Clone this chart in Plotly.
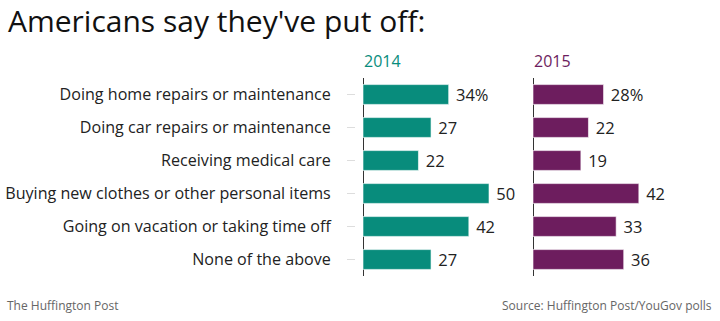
import plotly.graph_objects as go

categories = [
    "Doing home repairs or maintenance",
    "Doing car repairs or maintenance",
    "Receiving medical care",
    "Buying new clothes or other personal items",
    "Going on vacation or taking time off",
    "None of the above",
]
values_2014 = [34, 27, 22, 50, 42, 27]
values_2015 = [28, 22, 19, 42, 33, 36]
labels_2014 = ["34%", "27", "22", "50", "42", "27"]
labels_2015 = ["28%", "22", "19", "42", "33", "36"]

W, H = 720, 321
TEAL = "#088c7c"
PURPLE = "#6d1d5e"
FONT = "Open Sans"

def px(x):
    return x / W

def py(y):
    return 1 - y / H

fig = go.Figure()
for vals, labs, col, xa, ya in [
    (values_2014, labels_2014, TEAL, "x", "y"),
    (values_2015, labels_2015, PURPLE, "x2", "y2"),
]:
    fig.add_trace(go.Bar(
        y=categories, x=vals, orientation="h", xaxis=xa, yaxis=ya,
        marker=dict(color=col, line=dict(color="rgba(255,255,255,0.6)", width=1)),
        width=0.6, text=[" " + t for t in labs], textposition="outside",
        constraintext="none",
        textfont=dict(family=FONT, size=16.5, color="#222"), cliponaxis=False,
        hoverinfo="skip",
    ))

scale = 2.52  # px per unit
d1 = [363, 530]
d2 = [533, 720]
ydom = [py(276), py(78)]

fig.update_layout(
    width=W, height=H,
    margin=dict(l=0, r=0, t=0, b=0),
    paper_bgcolor="white", plot_bgcolor="rgba(0,0,0,0)",
    showlegend=False,
    font=dict(family=FONT, color="#222"),
    xaxis=dict(domain=[px(d1[0]), px(d1[1])], range=[0, (d1[1] - d1[0]) / scale],
               showgrid=False, showticklabels=False, zeroline=True,
               zerolinecolor="#333", zerolinewidth=1, fixedrange=True),
    xaxis2=dict(domain=[px(d2[0]), px(d2[1])], range=[0, (d2[1] - d2[0]) / scale],
                showgrid=False, showticklabels=False, zeroline=True,
                zerolinecolor="#333", zerolinewidth=1, anchor="y2", fixedrange=True),
    yaxis=dict(domain=ydom, autorange="reversed", anchor="free", position=px(355),
               ticks="outside", ticklen=8, tickcolor="#dddddd", tickwidth=1,
               showline=False, showgrid=False, automargin=False,
               ticklabelstandoff=13,
               tickfont=dict(family=FONT, size=16.1, color="#222"), fixedrange=True),
    yaxis2=dict(domain=ydom, autorange="reversed", anchor="x2", matches="y",
                showticklabels=False, showgrid=False, showline=False, ticks="",
                fixedrange=True),
    annotations=[
        dict(text="Americans say they've put off:", x=px(6), y=py(20), xref="paper", yref="paper",
             xanchor="left", yanchor="middle", showarrow=False,
             font=dict(family=FONT, size=30, color="#111")),
        dict(text="2014", x=px(362), y=py(61), xref="paper", yref="paper",
             xanchor="left", yanchor="middle", showarrow=False,
             font=dict(family=FONT, size=16, color=TEAL)),
        dict(text="2015", x=px(532), y=py(61), xref="paper", yref="paper",
             xanchor="left", yanchor="middle", showarrow=False,
             font=dict(family=FONT, size=16, color=PURPLE)),
        dict(text="The Huffington Post", x=px(5), y=py(305), xref="paper", yref="paper",
             xanchor="left", yanchor="middle", showarrow=False,
             font=dict(family=FONT, size=12, color="#666")),
        dict(text="Source: Huffington Post/YouGov polls", x=px(714), y=py(305), xref="paper", yref="paper",
             xanchor="right", yanchor="middle", showarrow=False,
             font=dict(family=FONT, size=12, color="#666")),
    ],
)

fig.write_html("out.html")
